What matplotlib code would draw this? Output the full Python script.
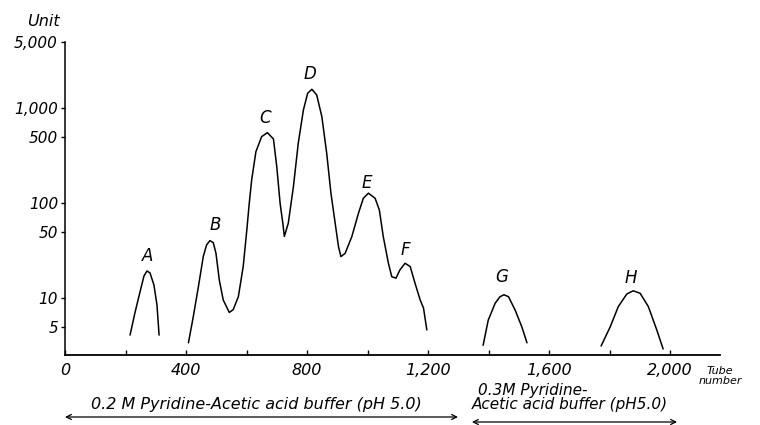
import matplotlib.pyplot as plt
from matplotlib.transforms import blended_transform_factory
from matplotlib.ticker import FixedLocator, FuncFormatter, NullLocator

# peak A
a_tube = [215, 231, 248, 261, 271, 281, 294, 304, 311]
a_unit = [4.1, 7.0, 11.7, 17.2, 19.4, 18.5, 13.8, 8.5, 4.1]

# peaks B - F (one continuous trace)
bf_tube = [408, 424, 441, 457, 468, 479, 490, 499, 510, 523, 543, 556, 573, 589,
           601, 609, 617, 631, 650, 669, 689, 700, 711, 720, 725, 738, 755, 771,
           788, 802, 816, 832, 849, 865, 879, 893, 904, 912, 926, 948, 970, 986,
           1003, 1025, 1039, 1052, 1069, 1080, 1094, 1107, 1124, 1141, 1157, 1174,
           1185, 1196]
bf_unit = [3.4, 6.4, 13.3, 27.5, 36.5, 40.5, 38.6, 29.8, 15.6, 9.6, 7.1, 7.6, 10.4, 21.6,
           52.5, 100, 176, 350, 504, 555, 476, 243, 100, 61.8, 44.8, 61.8, 150, 430,
           962, 1442, 1589, 1384, 818, 337, 128, 61.8, 35, 27.5, 29.8, 44.6, 78.7, 113,
           128, 113, 85.3, 44.6, 23.4, 16.9, 16.3, 19.9, 23.4, 21.6, 14.4, 9.6,
           7.9, 4.65]

# peak G
g_tube = [1382, 1399, 1422, 1438, 1451, 1466, 1488, 1510, 1527]
g_unit = [3.2, 5.9, 8.9, 10.4, 10.9, 10.4, 7.5, 5.0, 3.4]

# peak H
h_tube = [1772, 1802, 1829, 1857, 1878, 1901, 1928, 1956, 1977]
h_unit = [3.15, 5.0, 8.2, 11.1, 12.0, 11.3, 8.2, 4.65, 2.93]

peak_names = ['A', 'B', 'C', 'D', 'E', 'F', 'G', 'H']
peak_label_tube = [274, 496, 661, 810, 998, 1124, 1445, 1871]
peak_label_unit = [27.9, 59.3, 792, 2300, 164, 32.3, 16.8, 16.4]

x_ticks = [0, 400, 800, 1200, 1600, 2000]
x_minor = [200, 600, 1000, 1400, 1800]
y_ticks = [5, 10, 50, 100, 500, 1000, 5000]

buffer1 = '0.2 M Pyridine-Acetic acid buffer (pH 5.0)'
buffer2_top = '0.3M Pyridine-'
buffer2_bottom = 'Acetic acid buffer (pH5.0)'

W, H = 760, 425
fig = plt.figure(figsize=(W / 100, H / 100), dpi=100)
ax = fig.add_axes([65 / W, 70 / H, 655 / W, 313 / H])

for xs, ys in [(a_tube, a_unit), (bf_tube, bf_unit), (g_tube, g_unit), (h_tube, h_unit)]:
    ax.plot(xs, ys, color='black', lw=1.1, solid_capstyle='round', solid_joinstyle='round')

for name, xt, yt in zip(peak_names, peak_label_tube, peak_label_unit):
    ax.text(xt, yt, name, ha='center', va='center', fontsize=12, style='italic')

ax.set_yscale('log')
ax.set_xlim(0, 2165)
ax.set_ylim(2.53, 5000)

ax.spines['top'].set_visible(False)
ax.spines['right'].set_visible(False)
ax.spines['left'].set_linewidth(1.1)
ax.spines['bottom'].set_linewidth(1.3)

ax.xaxis.set_major_locator(FixedLocator(x_ticks))
ax.xaxis.set_minor_locator(FixedLocator(x_minor))
ax.xaxis.set_major_formatter(FuncFormatter(lambda v, p: '{:,}'.format(int(v))))
ax.yaxis.set_major_locator(FixedLocator(y_ticks))
ax.yaxis.set_minor_locator(NullLocator())
ax.yaxis.set_major_formatter(FuncFormatter(lambda v, p: '{:,}'.format(int(v))))

ax.tick_params(axis='x', which='both', direction='in', length=3.5, width=1, pad=6)
ax.tick_params(axis='y', which='major', direction='out', length=3, width=1, pad=2)
for lab in ax.get_xticklabels():
    lab.set_fontstyle('italic')
    lab.set_fontsize(11.5)
for lab in ax.get_yticklabels():
    lab.set_fontstyle('italic')
    lab.set_fontsize(11)

fig.text(60 / W, 1 - 22 / H, 'Unit', ha='right', va='center', fontsize=11.5, style='italic')
fig.text(720 / W, 1 - 376 / H, 'Tube\nnumber', ha='center', va='center', fontsize=8,
         style='italic', linespacing=0.95)

# buffer annotations under the axis
tr = blended_transform_factory(ax.transData, fig.transFigure)
ax.text(631, 1 - 405 / H, buffer1, transform=tr, ha='center', va='center',
        fontsize=11.5, style='italic', clip_on=False)
ax.text(1365, 1 - 391 / H, buffer2_top, transform=tr, ha='left', va='center',
        fontsize=11, style='italic', clip_on=False)
ax.text(1345, 1 - 405 / H, buffer2_bottom, transform=tr, ha='left', va='center',
        fontsize=11, style='italic', clip_on=False)
ax.annotate('', xy=(1299, 1 - 417 / H), xytext=(0, 1 - 417 / H), xycoords=tr,
            textcoords=tr, annotation_clip=False,
            arrowprops=dict(arrowstyle='<->', lw=0.9, color='black',
                            shrinkA=0, shrinkB=0, mutation_scale=9))
ax.annotate('', xy=(2023, 1 - 422 / H), xytext=(1345, 1 - 422 / H), xycoords=tr,
            textcoords=tr, annotation_clip=False,
            arrowprops=dict(arrowstyle='<->', lw=0.9, color='black',
                            shrinkA=0, shrinkB=0, mutation_scale=9))

plt.savefig('out.png', dpi=100)
